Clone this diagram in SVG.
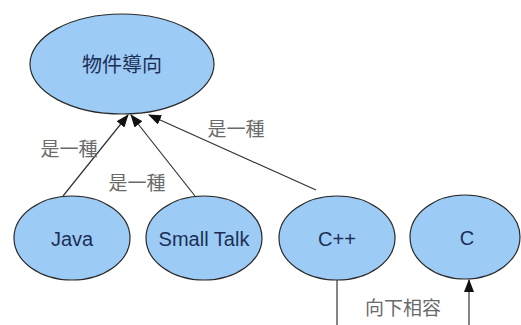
<svg xmlns="http://www.w3.org/2000/svg" width="521" height="325" viewBox="0 0 521 325">
<defs>
<marker id="ah" markerWidth="13" markerHeight="10" refX="12" refY="5" orient="auto" markerUnits="userSpaceOnUse">
<path d="M0,0 L13,5 L0,10 Z" fill="#111"/>
</marker>
<style>
.node ellipse{fill:#9ccbf6;stroke:#2a2a2a;stroke-width:1.2}
.ntext{font-family:"Liberation Sans","Noto Sans CJK TC",sans-serif;font-size:20px;fill:#1d2f55;text-anchor:middle;dominant-baseline:central}
.lbl{font-family:"Noto Sans CJK TC",sans-serif;font-size:19px;fill:#6a6a6a;text-anchor:middle;dominant-baseline:central}
.conn line{stroke:#333;stroke-width:1.2}
</style>
</defs>
<rect width="521" height="325" fill="#fff"/>
<g id="n-oop" class="node">
<ellipse cx="122" cy="64" rx="92" ry="50"/>
<text class="ntext" x="122" y="65">物件導向</text>
</g>
<g id="n-java" class="node">
<ellipse cx="72" cy="238" rx="58" ry="42"/>
<text class="ntext" x="72" y="239">Java</text>
</g>
<g id="n-smalltalk" class="node">
<ellipse cx="204" cy="238" rx="58" ry="42"/>
<text class="ntext" x="204" y="239">Small Talk</text>
</g>
<g id="n-cpp" class="node">
<ellipse cx="337" cy="238" rx="58" ry="42"/>
<text class="ntext" x="337" y="239">C++</text>
</g>
<g id="n-c" class="node">
<ellipse cx="465" cy="237" rx="55" ry="42"/>
<text class="ntext" x="467" y="238">C</text>
</g>
<g id="connectors" class="conn">
<line x1="63" y1="196" x2="128" y2="115" marker-end="url(#ah)"/>
<line x1="195" y1="196" x2="131" y2="115" marker-end="url(#ah)"/>
<line x1="316" y1="190" x2="149" y2="115" marker-end="url(#ah)"/>
<line x1="337" y1="280" x2="337" y2="325"/>
<line x1="469" y1="325" x2="469" y2="280" marker-end="url(#ah)"/>
</g>
<g id="labels">
<text class="lbl" x="69" y="147">是一種</text>
<text class="lbl" x="137" y="181">是一種</text>
<text class="lbl" x="236" y="127">是一種</text>
<text class="lbl" x="403" y="306">向下相容</text>
</g>
</svg>
